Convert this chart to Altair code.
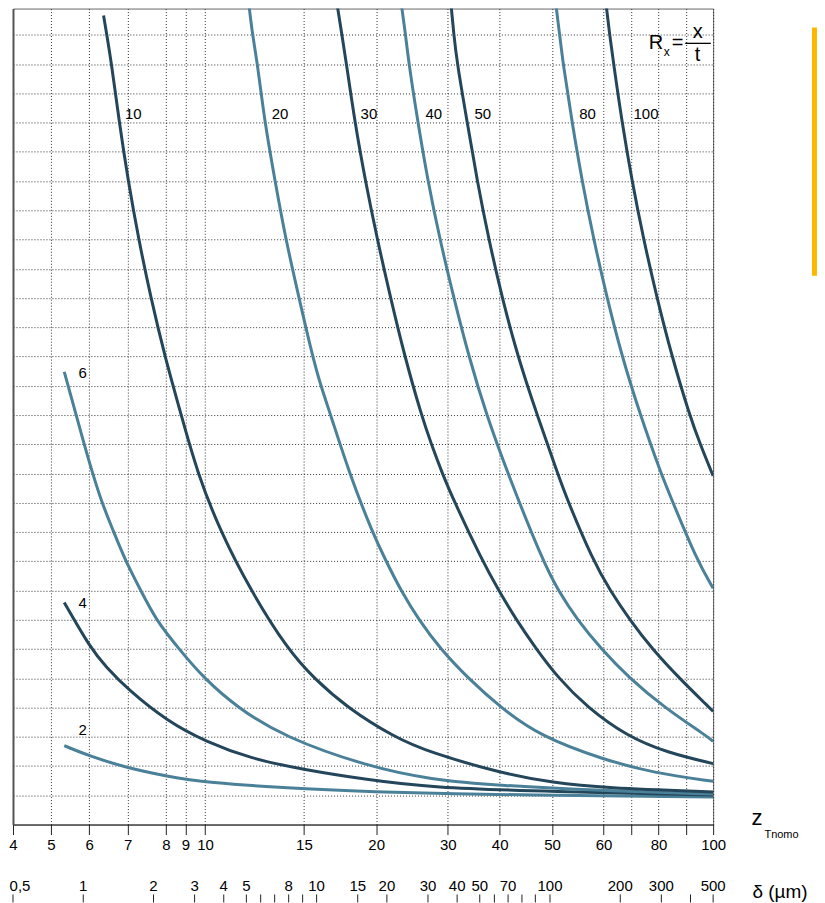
import math
import altair as alt
import pandas as pd

# ---------------- data ----------------
# x values are positions on the delta (µm) log scale, y values are grid units
r2_d = [0.829, 1.078, 1.548, 2.296, 3.293, 8.54, 30.75, 500]
r2_y = [2.697, 2.322, 1.936, 1.649, 1.444, 1.212, 1.041, 0.939]

r4_d = [0.829, 1.071, 1.250, 1.557, 2.296, 3.35, 5.218, 8.796, 16.37, 30.75, 100.3, 500]
r4_y = [7.59, 6.043, 5.394, 4.609, 3.527, 2.834, 2.253, 1.878, 1.536, 1.263, 1.127, 1.007]

r6_d = [0.829, 0.8622, 0.9330, 1.0095, 1.0966, 1.2017, 1.353, 1.523, 1.765, 2.046, 2.574, 3.293,
        4.577, 7.244, 16.48, 30.75, 61.28, 164.2, 500]
r6_y = [15.48, 14.99, 14.0, 13.0, 12.01, 11.0, 9.99, 8.99, 8.0, 7.0, 6.0, 4.995,
        3.995, 2.994, 1.99, 1.536, 1.332, 1.161, 1.041]

r10_d = [1.222, 1.3225, 1.425, 1.557, 1.726, 1.9475, 2.236, 2.630, 3.086, 3.882, 5.218, 7.49,
         9.737, 13.53, 21.42, 30.75, 61.28, 103.6, 169.6, 500]
r10_y = [27.66, 26.03, 24.03, 22.02, 20.02, 18.02, 16.01, 14.0, 12.01, 9.99, 8.0, 6.0,
         4.995, 3.995, 2.994, 2.458, 1.765, 1.424, 1.253, 1.116]

r20_d = [5.132, 5.306, 5.574, 5.989, 6.630, 7.366, 8.399, 9.603, 10.41, 11.48, 13.81, 17.33,
         19.73, 22.99, 27.40, 33.93, 44.49, 61.28, 90.91, 169.6, 277.6, 500]
r20_y = [28.0, 27.03, 26.03, 24.03, 22.02, 20.02, 18.02, 16.01, 15.01, 14.01, 12.01, 9.99,
         9.047, 7.989, 7.0, 6.0, 5.008, 4.005, 3.015, 2.219, 1.765, 1.478]

r30_d = [12.26, 12.82, 13.41, 14.57, 16.16, 18.18, 20.73, 23.84, 28.08, 30.99, 34.54, 38.57,
         51.08, 60.39, 71.7, 87.38, 108.5, 144.4, 214.2, 317.8, 500]
r30_y = [28.0, 27.03, 26.03, 24.03, 22.02, 20.02, 18.02, 16.01, 14.01, 13.01, 12.01, 11.10,
         9.047, 7.989, 7.0, 6.0, 5.008, 4.005, 3.015, 2.458, 2.083]

r40_d = [23.11, 24.03, 24.83, 27.13, 29.94, 33.70, 38.68, 44.85, 53.39, 65.87, 92.71, 108.5,
         130.9, 165.8, 218.5, 308.5, 471.2, 500]
r40_y = [28.0, 27.03, 26.03, 24.03, 22.02, 20.02, 18.02, 16.01, 14.01, 12.01, 9.047, 7.989,
         7.0, 6.0, 5.008, 4.005, 3.015, 2.844]

r50_d = [37.70, 38.68, 40.0, 44.14, 48.71, 54.61, 62.32, 72.68, 88.0, 107.8, 118.6, 152.5,
         181.2, 219.6, 274.1, 357.6, 480.6, 500]
r50_y = [28.0, 27.03, 26.03, 24.03, 22.02, 20.02, 18.02, 16.01, 14.01, 12.01, 11.10, 9.047,
         7.989, 7.0, 6.0, 5.008, 4.005, 3.868]

r80_d = [106.1, 109.9, 113.7, 124.2, 137.1, 153.7, 175.4, 203.3, 243.5, 298.6, 332.8, 425.7, 500]
r80_y = [28.0, 27.03, 26.03, 24.03, 22.02, 20.02, 18.02, 16.01, 14.01, 12.01, 11.10, 9.047, 8.081]

r100_d = [174.2, 179.9, 187.2, 203.3, 224.4, 251.5, 287.0, 332.8, 395.8, 439.8, 500]
r100_y = [28.0, 27.03, 26.03, 24.03, 22.02, 20.02, 18.02, 16.01, 14.01, 13.01, 11.92]

curve_names = ["2", "4", "6", "10", "20", "30", "40", "50", "80", "100"]
curve_shade = ["light", "dark", "light", "dark", "light", "dark", "light", "dark", "light", "dark"]
curve_d = [r2_d, r4_d, r6_d, r10_d, r20_d, r30_d, r40_d, r50_d, r80_d, r100_d]
curve_y = [r2_y, r4_y, r6_y, r10_y, r20_y, r30_y, r40_y, r50_y, r80_y, r100_y]

# curve labels
lab_text = ["10", "20", "30", "40", "50", "80", "100", "6", "4", "2"]
lab_d = [1.508, 6.418, 15.43, 29.27, 47.44, 133.5, 228.0, 0.9553, 0.9553, 0.9553]
lab_y = [24.13, 24.13, 24.13, 24.13, 24.13, 24.13, 24.13, 15.27, 7.405, 3.059]

# z_Tnomo scale: tick positions on the delta scale and their labels
z_pos = [0.5, 0.7272, 1.0605, 1.548, 2.258, 2.742, 3.326, 8.822, 18.0, 36.46, 60.85,
         102.0, 169.6, 222.2, 291.6, 382.0, 500]
z_lab = ["4", "5", "6", "7", "8", "9", "10", "15", "20", "30", "40",
         "50", "60", "", "80", "", "100"]

# delta (µm) scale ticks
d_pos = [0.5, 1, 2, 3, 4, 5, 5.757, 6.61, 7.59, 8.71, 10, 15, 20, 30, 40, 50,
         57.77, 66.13, 75.82, 86.52, 100, 200, 300, 400, 500]
d_lab = ["0,5", "1", "2", "3", "4", "5", "", "", "8", "", "10", "15", "20", "30", "40", "50",
         "", "70", "", "", "100", "200", "300", "", "500"]

# formula R_x = x / t
f_text = ["R", "x", "=", "x", "t"]
f_d = [284.6, 316.7, 352.4, 429.1, 429.1]
f_y = [26.52, 26.29, 26.52, 26.89, 26.12]
f_size = [20, 12, 20, 20, 20]
frac_d = [379.4]
frac_d2 = [488.7]
frac_y = [26.71]

# axis titles
t_text = ["z", "Tnomo", "δ (µm)"]
t_d = [771.1, 981.9, 967.5]
t_y = [0.0, -0.454, -2.50]
t_size = [22, 11, 19]

# yellow marker bar
bar_d = [1359.0]
bar_y = [27.25]
bar_y2 = [18.76]

# ---------------- build chart ----------------
FONT = "Liberation Sans"
DARK = "#24465a"
LIGHT = "#4a8199"

rows = []
for name, shade, ds, ys in zip(curve_names, curve_shade, curve_d, curve_y):
    for d, y in zip(ds, ys):
        rows.append({"curve": name, "shade": shade, "d": d, "y": y})
curves_df = pd.DataFrame(rows)


def label_expr(pos, labs):
    parts = []
    for i in range(len(pos) - 1):
        mid = math.sqrt(pos[i] * pos[i + 1])
        parts.append(f"datum.value < {mid:.5f} ? '{labs[i]}' : ")
    return "".join(parts) + f"'{labs[-1]}'"


xs = alt.Scale(type="log", domain=[0.5, 500], nice=False)
ys = alt.Scale(domain=[0, 27.9], nice=False, zero=False)

x_axis = alt.Axis(
    values=z_pos, labelExpr=label_expr(z_pos, z_lab), title=None,
    grid=True, gridDash=[1, 2], gridColor="#333", gridWidth=1,
    tickSize=10, tickColor="#222", tickWidth=1,
    domainColor="#222", domainWidth=1,
    labelFont=FONT, labelFontSize=15, labelColor="#000", labelPadding=3,
    labelOverlap=False, labelFlush=False,
)
y_axis = alt.Axis(
    values=list(range(1, 28)), title=None, labels=False, ticks=False,
    grid=True, gridDash=[1, 2], gridColor="#333", gridWidth=1,
    domain=True, domainColor="#555", domainWidth=2,
)

X = alt.X("d:Q", scale=xs, axis=x_axis)
Y = alt.Y("y:Q", scale=ys, axis=y_axis)

lines = alt.Chart(curves_df).mark_line(strokeWidth=3, clip=True, interpolate="basis").encode(
    x=X, y=Y, detail="curve:N",
    color=alt.Color("shade:N", scale=alt.Scale(domain=["dark", "light"], range=[DARK, LIGHT]), legend=None),
)

labels = alt.Chart(pd.DataFrame({"d": lab_d, "y": lab_y, "t": lab_text})).mark_text(
    align="left", baseline="alphabetic", font=FONT, fontSize=15, color="#000"
).encode(x=X, y=Y, text="t:N")

formula = alt.Chart(pd.DataFrame({"d": f_d, "y": f_y, "t": f_text, "s": f_size})).mark_text(
    align="center", baseline="alphabetic", font=FONT, color="#000"
).encode(x=X, y=Y, text="t:N", size=alt.Size("s:Q", scale=None, legend=None))

frac = alt.Chart(pd.DataFrame({"d": frac_d, "d2": frac_d2, "y": frac_y})).mark_rule(
    color="#000", strokeWidth=1.3
).encode(x=X, x2="d2:Q", y=Y)

titles = alt.Chart(pd.DataFrame({"d": t_d, "y": t_y, "t": t_text, "s": t_size})).mark_text(
    align="center", baseline="alphabetic", font=FONT, color="#000"
).encode(x=X, y=Y, text="t:N", size=alt.Size("s:Q", scale=None, legend=None))

bar = alt.Chart(pd.DataFrame({"d": bar_d, "y": bar_y, "y2": bar_y2})).mark_rule(
    color="#FBB800", strokeWidth=5
).encode(x=X, y=Y, y2="y2:Q")

dticks_df = pd.DataFrame({"d": d_pos, "t": d_lab})
d_ticks = alt.Chart(dticks_df).mark_rule(color="#222", strokeWidth=1).encode(
    x=X, y=alt.value(887), y2=alt.value(895)
)
d_labels = alt.Chart(dticks_df.iloc[1:]).mark_text(
    align="center", baseline="alphabetic", font=FONT, fontSize=15, color="#000"
).encode(x=X, y=alt.value(883.4), text="t:N")
d_label0 = alt.Chart(dticks_df.iloc[:1]).mark_text(
    align="center", baseline="alphabetic", font=FONT, fontSize=15, color="#000", dx=7
).encode(x=X, y=alt.value(883.4), text="t:N")

chart = alt.layer(
    lines, labels, formula, frac, titles, bar, d_ticks, d_labels, d_label0
).properties(
    width=701, height=817, padding=0
).configure_view(
    stroke="#666", strokeWidth=1
)

chart.save("out.html", embed_options={"renderer": "svg", "actions": False})
